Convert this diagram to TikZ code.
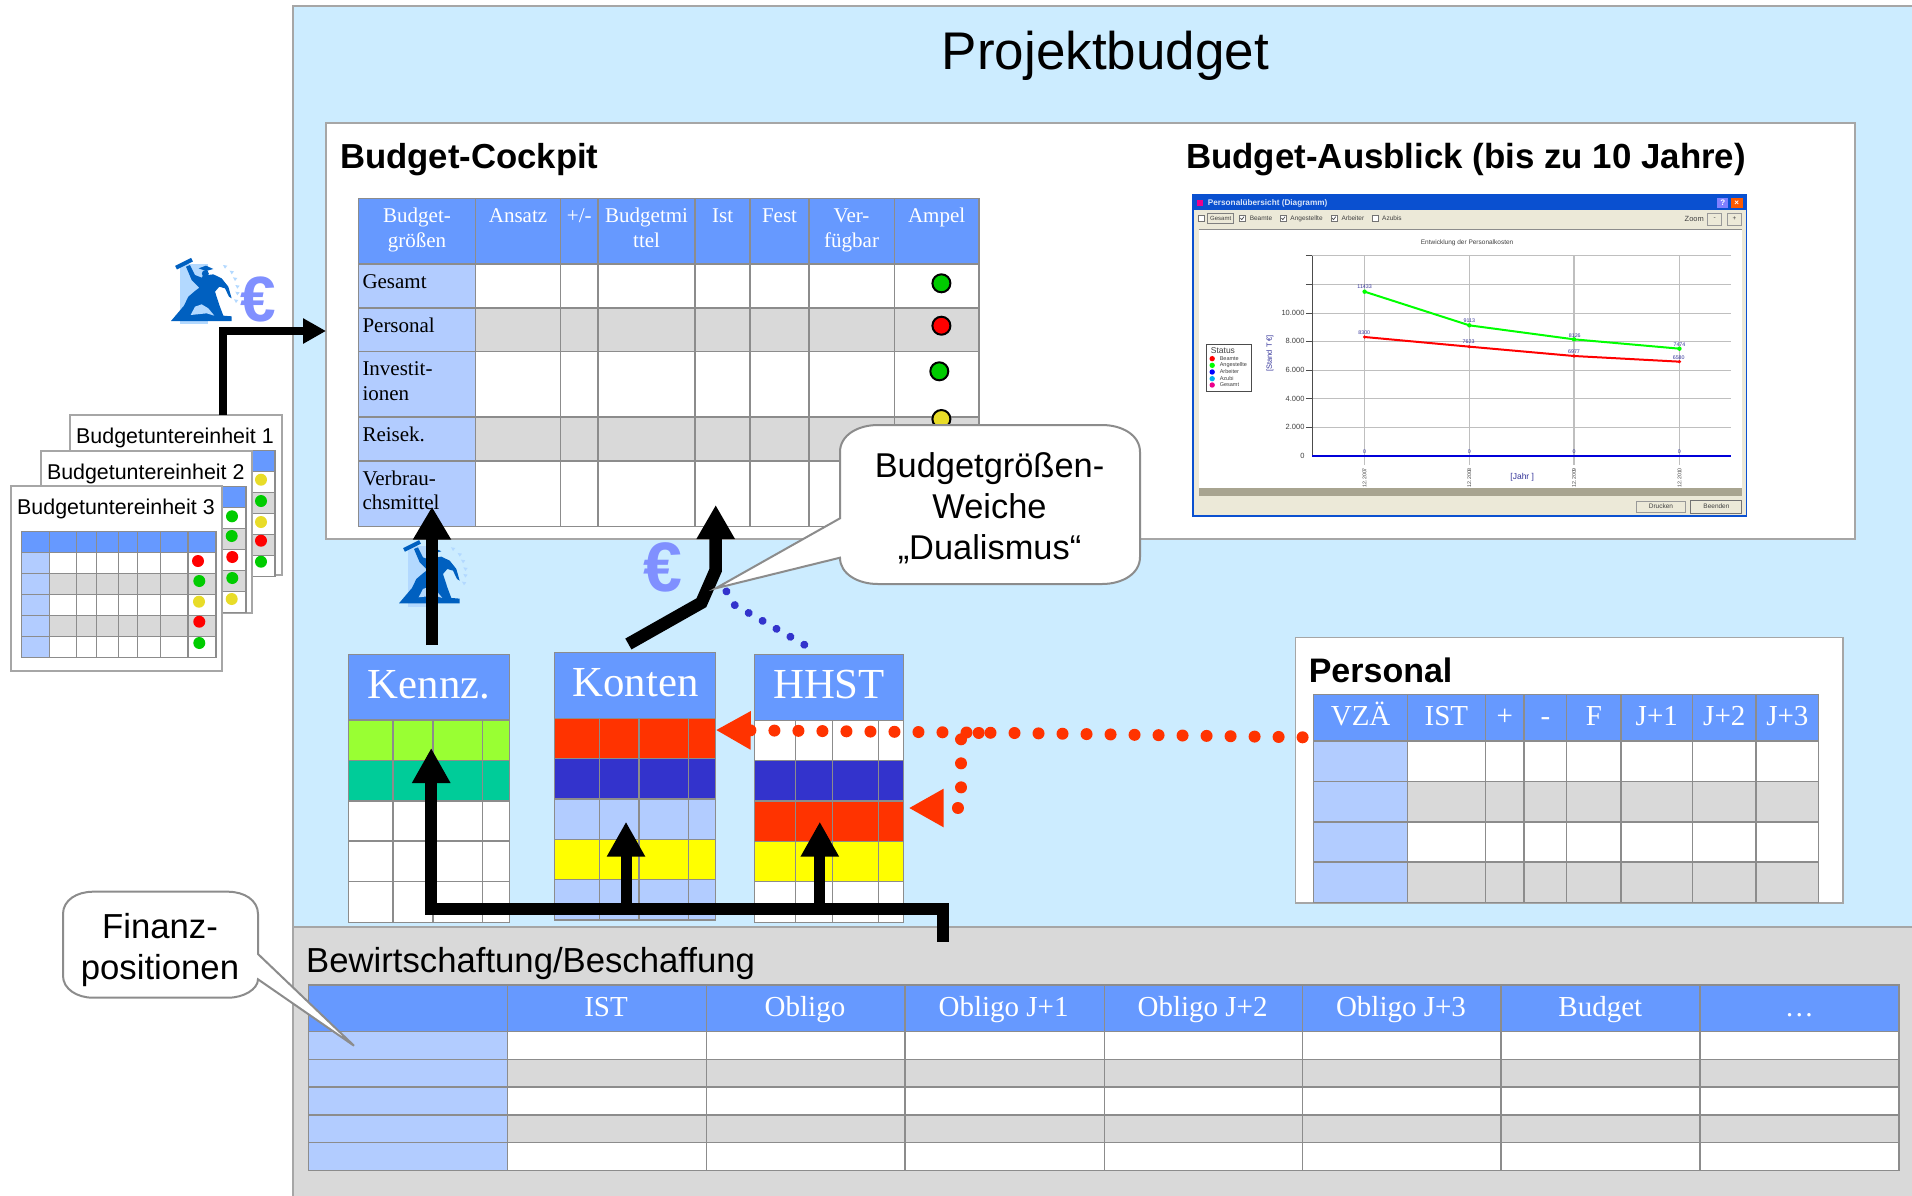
\documentclass[tikz,border=0pt]{standalone}
\usepackage{fontspec}
\setmainfont{Liberation Serif}
\newfontfamily\sansf{Liberation Sans}
\usetikzlibrary{arrows.meta}
\definecolor{skyb}{HTML}{CCECFF}
\definecolor{panelg}{HTML}{D9D9D9}
\definecolor{edgeg}{HTML}{A6A6A6}
\definecolor{gridg}{HTML}{8C8C8C}
\definecolor{hdr}{HTML}{6699FF}
\definecolor{lb}{HTML}{B2CCFF}
\definecolor{lime}{HTML}{99FF33}
\definecolor{teal2}{HTML}{00CC99}
\definecolor{redd}{HTML}{FF3300}
\definecolor{dblue}{HTML}{3333CC}
\definecolor{yell}{HTML}{FFFF00}
\definecolor{tgreen}{HTML}{00CC00}
\definecolor{tred}{HTML}{FF0000}
\definecolor{tyell}{HTML}{E8DC28}
\definecolor{iconb}{HTML}{0060C0}
\definecolor{iconl}{HTML}{B3D9FF}
\definecolor{eurob}{HTML}{8090FF}
\definecolor{winb}{HTML}{ECE9D8}
\definecolor{winbar}{HTML}{A8A490}
\definecolor{titb}{HTML}{0A50D0}
\definecolor{navy2}{HTML}{333399}
\newcommand\fsz[1]{\fontsize{#1}{#1}\selectfont}
\newcommand\twoc[3]{\vtop{\baselineskip=#1pt\lineskiplimit=-100pt\halign{\hfil##\hfil\cr #2\cr #3\cr}}}
\newcommand\twol[3]{\vtop{\baselineskip=#1pt\lineskiplimit=-100pt\halign{##\hfil\cr #2\cr #3\cr}}}
\newcommand\threec[4]{\vtop{\baselineskip=#1pt\lineskiplimit=-100pt\halign{\hfil##\hfil\cr #2\cr #3\cr #4\cr}}}
% xleft, xright, inner xs, rows, ytop, ybottom, first col right, body top
\newcommand\gridtbl[8]{%
 \foreach \ya/\yb/\c in {#4}{\fill[\c] (#1,\ya) rectangle (#2,\yb);}
 \fill[lb] (#1,#8) rectangle (#7,#6);
 \foreach \ya/\yb/\c in {#4}{\draw[gridl] (#1,\yb) -- (#2,\yb);}
 \foreach \xx in {#3}{\draw[gridl] (\xx,#5) -- (\xx,#6);}
 \draw[gridl] (#1,#5) rectangle (#2,#6);
}
\newcommand\cardtbl[2]{%
 \begin{scope}[shift={(#1,#2)}]
 \gridtbl{21.7}{216}{49.3,76.7,96.7,118.7,137.7,160.3,188}{531.7/552.3/hdr,552.3/573.3/white,573.3/594.3/panelg,594.3/615.3/white,615.3/636.3/panelg,636.3/657.3/white}{531.7}{657.3}{49.3}{552.3}
 \end{scope}}
\newcommand\bicon[2]{%
 \begin{scope}[shift={(#1,#2)},x=0.3333pt,y=-0.3333pt]
 \fill[iconl] (60,57) rectangle (143,238);
 \fill[iconb] (33,228) -- (72,182) -- (85,155) -- (105,138) -- (118,128) -- (95,105) -- (78,65) -- (90,60) -- (105,90) -- (125,98) -- (132,88) -- (145,90) -- (160,88) -- (185,100) -- (205,125) -- (215,160) -- (207,155) -- (195,130) -- (178,125) -- (165,140) -- (178,180) -- (190,212) -- (215,214) -- (215,228) -- cycle;
 \fill[iconl] (92,210) -- (105,185) -- (125,178) -- (145,190) -- (163,212) -- (140,205) -- cycle;
 \draw[iconb,line width=4pt] (48,68) -- (96,44);
 \fill[iconb] (116,70) -- (138,62) -- (160,72) -- (138,78) -- cycle;
 \fill[iconb] (136,86) circle[radius=3.5pt];
 \foreach \xa/\ya in {195/65,215/82,225/102,232/125,232/145,228/168}{\fill[iconl] (\xa,\ya) +(-6,-5) -- +(7,-3) -- +(0,6) -- cycle;}
 \end{scope}}
\tikzset{
 gridl/.style={draw=gridg,line width=1.5pt},
 panel/.style={draw=edgeg,line width=1.6pt,anchor=north west,inner sep=0pt,outer sep=0pt},
 lblc/.style={inner sep=0pt,anchor=base,font=\fsz{21}},
 lbll/.style={inner sep=0pt,anchor=base west,font=\fsz{21}},
 hdrc/.style={inner sep=0pt,anchor=base,text=white,font=\fsz{21}},
 hdrm/.style={inner sep=0pt,anchor=base,text=white,font=\fsz{29}},
 hdrb/.style={inner sep=0pt,anchor=base,text=white,font=\fsz{42.8}},
 sans/.style={inner sep=0pt,font=\sansf\fsz{34.7}},
 cardlbl/.style={inner sep=0pt,anchor=base west,font=\sansf\fsz{21.4}},
 fat/.style={draw=black,line width=12pt,line join=miter,-{Triangle[length=35pt,width=36pt]}},
 dotred/.style={draw=redd,line width=12pt,line cap=round,dash pattern=on 0.01pt off 24pt,-{Triangle[length=35pt,width=36pt,fill=redd]}},
 dotblue/.style={draw=dblue,line width=8pt,line cap=round,dash pattern=on 0.01pt off 16pt},
 callout/.style={draw=gridg,line width=2pt,fill=white,line join=miter},
 amp/.style={draw=black,line width=2pt},
 tiny/.style={inner sep=0pt,font=\sansf\fsz{6.5},text=black!75},
 val/.style={inner sep=0pt,font=\sansf\fsz{5.3},text=navy2},
}
\begin{document}
\begin{tikzpicture}[x=1pt,y=-1pt]
\useasboundingbox (0,0) rectangle (1912,1195);
\fill[white] (0,0) rectangle (1912,1195);
% panels
\draw[draw=edgeg,line width=1.6pt,fill=skyb] (293,6) rectangle (1930,1210);
\draw[draw=edgeg,line width=1.6pt,fill=panelg] (293,926.7) rectangle (1930,1210);
\node[sans,font=\sansf\fsz{53},anchor=base] (title) at (1105.5,69) {Projektbudget};
% cockpit
\node[panel,fill=white,minimum width=1529pt,minimum height=416pt] (cockpit) at (326,123) {};
\node[sans,font=\sansf\bfseries\fsz{34.7},anchor=base west] (ct) at (340,168) {Budget-Cockpit};
\node[sans,font=\sansf\bfseries\fsz{34.85},anchor=base west] (at) at (1186,168) {Budget-Ausblick (bis zu 10 Jahre)};
\gridtbl{358.5}{978.9}{475.5,560.5,598,695.2,750,808.9,894.3}{198.7/264/hdr,264/308/white,308/351.7/panelg,351.7/417/white,417/461/panelg,461/526.7/white}{198.7}{526.7}{475.5}{264}
\node[hdrc] (cha) at (417,222.3) {\twoc{25.4}{Budget-}{größen}};
\node[hdrc] (chb) at (518,222.3) {Ansatz};
\node[hdrc] (chc) at (579.3,222.3) {+/-};
\node[hdrc] (chd) at (646.6,222.3) {\twoc{25.4}{Budgetmi}{ttel}};
\node[hdrc] (che) at (722.6,222.3) {Ist};
\node[hdrc] (chf) at (779.5,222.3) {Fest};
\node[hdrc] (chg) at (851.6,222.3) {\twoc{25.4}{Ver-}{fügbar}};
\node[hdrc] (chh) at (936.6,222.3) {Ampel};
\node[lbll] (cra) at (362.3,288.3) {Gesamt};
\node[lbll] (crb) at (362.3,332) {Personal};
\node[lbll] (crc) at (362.3,375.7) {\twol{24.6}{Investit-}{ionen}};
\node[lbll] (crd) at (362.3,441.3) {Reisek.};
\node[lbll] (cre) at (362.3,485.3) {\twol{24}{Verbrau-}{chsmittel}};
\foreach \xx/\yy/\c in {941.4/283.3/tgreen,941.4/325.7/tred,939.3/371.3/tgreen,941.4/419/tyell}{\draw[amp,fill=\c] (\xx,\yy) circle[radius=9pt];}
% screenshot
\begin{scope}[shift={(1180,185)},x=0.36996pt,y=-0.33333pt]
 \fill[titb] (33,28) rectangle (1533,995);
 \fill[winb] (37,75) rectangle (1529,990);
 \fill[white] (50,133) rectangle (1518,908);
 \draw[black!45,line width=0.7pt] (50,133) -- (1518,133);
 \fill[winbar] (50,908) rectangle (1518,932);
 \fill[magenta] (47,45) rectangle (63,62);
 \node[inner sep=0pt,anchor=west,text=white!85!titb,font=\sansf\bfseries\fsz{8.2}] (wt) at (75,55) {Personalübersicht (Diagramm)};
 \fill[blue!50!white] (1452,40) rectangle (1482,68);
 \fill[orange!70!red] (1489,40) rectangle (1522,68);
 \node[inner sep=0pt,text=white,font=\sansf\bfseries\fsz{8}] (wq) at (1467,54) {?};
 \node[inner sep=0pt,text=white,font=\sansf\bfseries\fsz{8}] (wx) at (1505,54) {×};
 \foreach \xx in {57,168,279,416,527}{\draw[black!55,fill=white,line width=0.6pt] (\xx-8,92) rectangle (\xx+8,108);}
 \foreach \xx in {168,279,416}{\draw[black!70,line width=0.7pt] (\xx-5,99) -- (\xx-1,104) -- (\xx+5,95);}
 \draw[black!50,line width=0.7pt] (74,86) rectangle (144,114);
 \node[tiny,font=\sansf\fsz{6},anchor=center] (wa) at (110,100) {Gesamt};
 \node[tiny,anchor=west] (wb) at (188,100) {Beamte};
 \node[tiny,anchor=west] (wc) at (298,100) {Angestellte};
 \node[tiny,anchor=west] (wd) at (436,100) {Arbeiter};
 \node[tiny,anchor=west] (we) at (546,100) {Azubis};
 \node[tiny,font=\sansf\fsz{7.5},anchor=center] (wz) at (1390,102) {Zoom};
 \draw[black!40,line width=0.7pt] (1426,85) rectangle (1464,120);
 \draw[black!40,line width=0.7pt] (1480,85) rectangle (1518,120);
 \node[tiny,anchor=center] (wm) at (1445,102) {-};
 \node[tiny,anchor=center] (wp) at (1499,102) {+};
 \node[tiny,anchor=center] (wh) at (776,174) {Entwicklung der Personalkosten};
 \foreach \yy in {212,298,384,470,555,641,727}{\draw[black!25,line width=0.9pt] (358,\yy) -- (1490,\yy);\draw[black!70,line width=0.8pt] (340,\yy) -- (358,\yy);}
 \foreach \xx in {499,782,1065,1350}{\draw[black!25,line width=1.1pt] (\xx,212) -- (\xx,840);}
 \draw[black!70,line width=1pt] (358,212) -- (358,813) -- (1490,813);
 \foreach \yy/\t [count=\i] in {383/10.000,469/8.000,555/6.000,641/4.000,727/2.000,813/0}{\node[tiny,font=\sansf\fsz{7.5},anchor=east] (wy\i) at (337,\yy) {\t};}
 \node[val,font=\sansf\fsz{7.5},rotate=90] (wsy) at (243,505) {[Stand T €]};
 \node[val,font=\sansf\fsz{8.5}] (wjx) at (925,876) {[Jahr ]};
 \foreach \xx/\t [count=\i] in {499/12.2007,782/12.2008,1065/12.2009,1350/12.2010}{\node[tiny,font=\sansf\fsz{5.3},rotate=90] (wx\i) at (\xx,878) {\t};\node[val] (wo\i) at (\xx,800) {0};}
 \draw[blue!85!black,line width=1.5pt] (358,813) -- (1490,813);
 \draw[tred,line width=2pt] (499,456) -- (782,485) -- (1065,513) -- (1350,530);
 \draw[green,line width=2pt] (499,320) -- (782,421) -- (1065,463) -- (1350,491);
 \foreach \xx/\yy in {499/320,782/421,1065/463,1350/491}{\fill[green] (\xx,\yy) circle[radius=2.2pt];}
 \foreach \xx/\yy in {499/456,782/485,1065/513,1350/530}{\fill[tred] (\xx,\yy) circle[radius=1.8pt];}
 \foreach \xx/\yy/\t [count=\i] in {499/306/11433,782/408/9113,1067/451/8126,1350/478/7474,498/443/8300,780/471/7623,1065/499/6977,1348/517/6580}{\node[val] (wv\i) at (\xx,\yy) {\t};}
 \draw[black!70,fill=white,line width=0.7pt] (71,479) rectangle (194,620);
 \node[tiny,font=\sansf\fsz{8.5},anchor=center] (ws) at (116,497) {Status};
 \foreach \yy/\c/\t [count=\i] in {521/tred/Beamte,541/green/Angestellte,561/blue/Arbeiter,581/cyan/Azubi,600/magenta/Gesamt}{\fill[\c] (87,\yy) circle[radius=2.7pt];\node[tiny,font=\sansf\fsz{5.5},anchor=west] (wl\i) at (107,\yy) {\t};}
 \draw[black!40,line width=0.7pt,fill=winb] (1233,948) rectangle (1365,983);
 \draw[black!55,line width=0.9pt,fill=winb] (1381,946) rectangle (1518,985);
 \node[tiny,anchor=center] (wdr) at (1300,965) {Drucken};
 \node[tiny,anchor=center] (wbe) at (1450,965) {Beenden};
\end{scope}
% cards
\node[panel,fill=white,minimum width=212pt,minimum height=160pt] (card1) at (70,415) {};
\cardtbl{59}{-81}
\foreach \yy/\c in {479.7/tyell,501/tgreen,522/tyell,540.7/tred,561.7/tgreen}{\fill[\c] (261,\yy) circle[radius=6pt];}
\node[cardlbl] (cl1) at (76,443.5) {Budgetuntereinheit 1};
\node[panel,fill=white,minimum width=211pt,minimum height=162pt] (card2) at (41,451) {};
\cardtbl{30}{-45}
\foreach \xx/\yy/\c in {232/516.3/tgreen,231.7/536/tgreen,232.3/557/tred,232.3/578/tgreen,231.7/599/tyell}{\fill[\c] (\xx,\yy) circle[radius=6pt];}
\node[cardlbl] (cl2) at (46.8,479.5) {Budgetuntereinheit 2};
\node[panel,fill=white,minimum width=211pt,minimum height=185pt] (card3) at (11,486) {};
\cardtbl{0}{0}
\foreach \xx/\yy/\c in {198/561/tred,199.3/581/tgreen,199/601.7/tyell,199.3/621.7/tred,199.3/643/tgreen}{\fill[\c] (\xx,\yy) circle[radius=6pt];}
\node[cardlbl] (cl3) at (17,514.5) {Budgetuntereinheit 3};
% icons
\bicon{160}{245}
\node[inner sep=0pt,anchor=base west,text=eurob,font=\sansf\bfseries\fsz{64}] (eu1) at (240,321) {€};
\bicon{388}{527.3}
\node[inner sep=0pt,anchor=base west,text=eurob,font=\sansf\bfseries\fsz{70}] (eu2) at (643,591) {€};
% Personal
\node[panel,fill=white,minimum width=547.5pt,minimum height=265.4pt] (pers) at (1295.5,637.3) {};
\node[sans,font=\sansf\bfseries\fsz{34},anchor=base west] (pt) at (1308.6,682) {Personal};
\gridtbl{1313.7}{1818.7}{1407.6,1485.3,1524.2,1566.7,1621.1,1692.5,1756.1}{694.3/741/hdr,741/781.7/white,781.7/822/panelg,822/862/white,862/902.7/panelg}{694.3}{902.7}{1407.6}{741}
\foreach \xx/\t [count=\i] in {1360.6/VZÄ,1446.4/IST,1504.7/+,1545.4/-,1593.9/F,1656.8/J+1,1724.3/J+2,1787.4/J+3}{\node[hdrm] (ph\i) at (\xx,725) {\t};}
% Kennz, Konten, HHST
\gridtbl{348.4}{509.6}{392.9,432.9,482.7}{654.3/720/hdr,720/760.3/lime,760.3/801/teal2,801/841/white,841/881.3/white,881.3/922.3/white}{654.3}{922.3}{348.4}{922.3}
\fill[hdr] (348.4,654.3) rectangle (509.6,720);
\draw[gridl] (348.4,654.3) rectangle (509.6,720);
\node[hdrb] (tk) at (429,698) {Kennz.};
\gridtbl{554.5}{715.7}{599.4,639,688.4}{652.3/718.7/hdr,718.7/758.7/redd,758.7/799/dblue,799/839.3/lb,839.3/879.7/yell,879.7/920/lb}{652.3}{920}{554.5}{920}
\fill[hdr] (554.5,652.3) rectangle (715.7,718.7);
\draw[gridl] (554.5,652.3) rectangle (715.7,718.7);
\node[hdrb] (tn) at (635.5,696) {Konten};
\gridtbl{754.5}{903.5}{795.3,832.4,878.6}{654.3/720.3/hdr,720.3/760.3/white,760.3/801/dblue,801/841.3/redd,841.3/881.3/yell,881.3/922.3/white}{654.3}{922.3}{754.5}{922.3}
\fill[hdr] (754.5,654.3) rectangle (903.5,720.3);
\draw[gridl] (754.5,654.3) rectangle (903.5,720.3);
\node[hdrb] (th) at (829,698) {HHST};
% bottom table
\node[sans,anchor=base west] (bt) at (306,972) {Bewirtschaftung/Beschaffung};
\gridtbl{308.5}{1898.8}{507.6,706.3,905.2,1104.7,1302.5,1500.9,1699.8}{985/1031.7/hdr,1031.7/1059.3/white,1059.3/1087/panelg,1087/1115/white,1115/1142.7/panelg,1142.7/1170.3/white}{985}{1170.3}{507.6}{1031.7}
\foreach \xx/\t [count=\i] in {606/IST,805/Obligo,1003.6/Obligo J+1,1202.6/Obligo J+2,1401/Obligo J+3,1600.3/Budget,1799.3/…}{\node[hdrm] (bh\i) at (\xx,1016.3) {\t};}
% connector end points
\coordinate (a1s) at (222.7,415);
\coordinate (a1e) at (326,331);
\coordinate (a2s) at (432,645);
\coordinate (a2e) at (432,506.7);
\coordinate (a3s) at (628.4,644);
\coordinate (a3m) at (701.4,602.7);
\coordinate (a3n) at (715.7,570);
\coordinate (a3e) at (715.7,505);
\coordinate (bs) at (943,941.7);
\coordinate (bk) at (431.2,909.3);
\coordinate (bke) at (431.2,748);
\coordinate (bc) at (626,909.3);
\coordinate (bce) at (626,821.7);
\coordinate (bh) at (819.8,909.3);
\coordinate (bhe) at (819.8,821.7);
\coordinate (rs) at (1302.6,737.3);
\coordinate (rm) at (1014.6,733);
\coordinate (re) at (715.7,730);
\coordinate (r2s) at (978.7,732.7);
\coordinate (r2a) at (961.3,732.7);
\coordinate (r2b) at (961.3,808);
\coordinate (r2e) at (908.7,808);
\coordinate (ds) at (804.3,644.7);
\coordinate (dm) at (748.8,613);
\coordinate (dn) at (734.9,605.3);
\coordinate (do) at (726.7,592);
\coordinate (de) at (719.8,577);
% connectors
\draw[dotblue] (ds) -- (dm) -- (dn) -- (do) -- (de);
\draw[dotred] (rs) -- (rm) -- (re);
\draw[dotred] (r2s) -- (r2a) -- (r2b) -- (r2e);
\draw[draw=black,line width=8pt,line join=miter,-{Triangle[length=23pt,width=24pt]}] (a1s) |- (a1e);
\draw[fat,-{Triangle[length=33pt,width=36pt]}] (a2s) -- (a2e);
\draw[fat,line width=12.5pt,-{Triangle[length=34pt,width=36pt]}] (a3s) -- (a3m) -- (a3n) -- (a3e);
\draw[fat] (bs) |- (bk) -- (bke);
\draw[fat,line width=11pt] (bc) -- (bce);
\draw[fat,line width=11pt] (bh) -- (bhe);
% callouts
\draw[callout] (258,954) -- (258,914) .. controls (258,900) and (244,891.7) .. (228,891.7) -- (93,891.7) .. controls (77,891.7) and (63,900) .. (63,914) -- (63,975.7) .. controls (63,989) and (77,997.7) .. (93,997.7) -- (228,997.7) .. controls (244,997.7) and (258,989) .. (258,979.3) -- (354,1045.7) -- cycle;
\node[sans,anchor=base] (fin) at (160,938) {\twoc{41.6}{Finanz-}{positionen}};
\draw[callout] (840,518.3) -- (840,452) .. controls (840,435) and (858,425) .. (878,425) -- (1102,425) .. controls (1122,425) and (1140,435) .. (1140,452) -- (1140,557) .. controls (1140,574) and (1122,584) .. (1102,584) -- (878,584) .. controls (858,584) and (840,574) .. (840,557.7) -- (715.7,588.3) -- cycle;
\node[sans,font=\sansf\fsz{34.4},anchor=base] (dua) at (989.5,477) {\threec{41.3}{Budgetgrößen-}{Weiche}{„Dualismus“}};
\end{tikzpicture}
\end{document}
